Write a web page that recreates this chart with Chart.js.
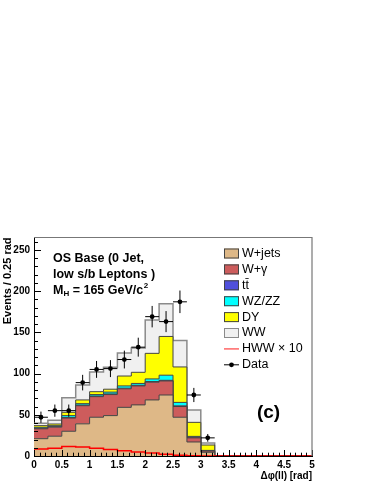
<!DOCTYPE html>
<html>
<head>
<meta charset="utf-8">
<script src="https://cdn.jsdelivr.net/npm/chart.js@4.4.0/dist/chart.umd.min.js"></script>
<style>
  html, body { margin: 0; padding: 0; background: #fff; }
  canvas { display: block; }
</style>
</head>
<body>
<canvas id="grafico" width="374" height="484"></canvas>
<script>
// Bins em delta-phi (borda inferior, largura 0.25 rad)
const binLo = [0, 0.25, 0.5, 0.75, 1, 1.25, 1.5, 1.75, 2, 2.25, 2.5, 2.75, 3, 3.25, 3.5, 3.75, 4, 4.25, 4.5, 4.75];
const binWidth = 0.25;

// Fundos (eventos por bin)
const wJets  = [21, 24, 30, 39, 47, 49, 59, 62, 68, 74, 47, 17, 4.5, 0, 0, 0, 0, 0, 0, 0];
const wGamma = [12, 11, 16, 22, 25, 25.5, 22.5, 23, 21.5, 17, 13, 5, 1.5, 0, 0, 0, 0, 0, 0, 0];
const ttbar  = [0.6, 0.6, 0.8, 0.8, 0.8, 0.8, 0.8, 0.8, 0.8, 0.8, 0.8, 0.6, 0.3, 0, 0, 0, 0, 0, 0, 0];
const wzzz   = [1.2, 1.2, 2.2, 1.7, 1.7, 2.2, 2.7, 2.2, 3.2, 6.2, 4.2, 1.2, 0.5, 0, 0, 0, 0, 0, 0, 0];
const dy     = [2, 2, 4, 4.5, 3.5, 3.5, 12, 13.5, 31, 47, 43, 17, 6.5, 0, 0, 0, 0, 0, 0, 0];
const ww     = [3, 4.5, 17.5, 18, 24, 26.5, 28, 29.5, 40.5, 39.5, 32, 15, 2.5, 0, 0, 0, 0, 0, 0, 0];

// Sinal (x10) e dados
const hww10 = [8.5, 9.5, 11.5, 11, 9.5, 8, 6.5, 5, 3.5, 2, 0.8, 0.3, 0.1, 0, 0, 0, 0, 0, 0, 0];
const dados = [47, 55, 55, 89, 105, 106, 117, 132, 169, 163, 187, 74, 22, 0, 0, 0, 0, 0, 0, 0];

const camadas = [
  { label: 'W+jets', valores: wJets,  cor: '#deb887', borda: '#444' },
  { label: 'W+\u03b3', valores: wGamma, cor: '#cd5c5c', borda: '#444' },
  { label: 't\u0074\u0304', valores: ttbar, cor: '#5050dc', borda: '#444' },
  { label: 'WZ/ZZ', valores: wzzz,  cor: '#00ffff', borda: '#444' },
  { label: 'DY',     valores: dy,    cor: '#ffff00', borda: '#444' },
  { label: 'WW',     valores: ww,    cor: '#f0f0f0', borda: '#8a8a8a' }
];

const fonte = "'Liberation Sans', Arial, sans-serif";
Chart.defaults.font.family = fonte;

// pontos de histograma em degraus (bordas dos bins)
function pontosHist(valores) {
  const pts = binLo.map((x, i) => ({ x, y: valores[i] }));
  pts.push({ x: binLo[binLo.length - 1] + binWidth, y: valores[valores.length - 1] });
  return pts;
}

// pilha acumulada
const acumulado = binLo.map(() => 0);
const dsPilha = camadas.map((c, k) => {
  c.valores.forEach((v, i) => { acumulado[i] += v; });
  return {
    label: c.label,
    data: pontosHist(acumulado.slice()),
    stepped: 'before',
    borderColor: c.borda,
    borderWidth: k === camadas.length - 1 ? 1.5 : 1,
    backgroundColor: c.cor,
    fill: k === 0 ? 'origin' : '-1',
    pointRadius: 0
  };
});

const pontosDados = binLo
  .map((x, i) => ({ x: x + binWidth / 2, y: dados[i] }))
  .filter(p => p.y > 0);

const datasets = [
  {
    label: 'Data',
    data: pontosDados,
    showLine: false,
    pointRadius: 2.4,
    pointBackgroundColor: '#000',
    pointBorderWidth: 0,
    fill: false
  },
  {
    label: 'HWW \u00d7 10',
    data: pontosHist(hww10),
    stepped: 'before',
    borderColor: '#ff0000',
    borderWidth: 1.5,
    pointRadius: 0,
    fill: false
  },
  ...dsPilha
];

// barras de erro dos dados
const barrasErro = {
  id: 'barrasErro',
  afterDatasetsDraw(chart) {
    const { ctx, scales: { x, y } } = chart;
    ctx.save();
    ctx.strokeStyle = '#000';
    ctx.lineWidth = 1;
    pontosDados.forEach(p => {
      const erro = Math.sqrt(p.y);
      const px = x.getPixelForValue(p.x);
      const py = y.getPixelForValue(p.y);
      ctx.beginPath();
      ctx.moveTo(x.getPixelForValue(p.x - binWidth / 2), py);
      ctx.lineTo(x.getPixelForValue(p.x + binWidth / 2), py);
      ctx.moveTo(px, y.getPixelForValue(p.y - erro));
      ctx.lineTo(px, y.getPixelForValue(p.y + erro));
      ctx.stroke();
    });
    ctx.restore();
  }
};

// moldura e marcas internas estilo ROOT
const moldura = {
  id: 'moldura',
  afterDatasetsDraw(chart) {
    const { ctx, chartArea: a, scales: { x, y } } = chart;
    ctx.save();
    ctx.strokeStyle = '#000';
    ctx.lineWidth = 1;
    ctx.beginPath();
    for (let i = 0; i <= 50; i++) {
      const px = Math.round(x.getPixelForValue(i / 10)) + 0.5;
      const len = i % 5 === 0 ? 6 : 3.3;
      ctx.moveTo(px, a.bottom);
      ctx.lineTo(px, a.bottom - len);
    }
    for (let i = 0; i <= 26; i++) {
      const py = Math.round(y.getPixelForValue(i * 10)) + 0.5;
      const len = i % 5 === 0 ? 7 : 4;
      ctx.moveTo(a.left, py);
      ctx.lineTo(a.left + len, py);
    }
    ctx.stroke();
    ctx.strokeStyle = '#777';
    ctx.lineWidth = 1.2;
    ctx.beginPath();
    ctx.moveTo(a.left, a.top);
    ctx.lineTo(a.right, a.top);
    ctx.lineTo(a.right, a.bottom);
    ctx.stroke();
    ctx.restore();
  }
};

// legenda e textos
const legenda = {
  id: 'legenda',
  afterDraw(chart) {
    const ctx = chart.ctx;
    const x0 = 224, y0 = 253.5, passo = 15.9;
    ctx.save();
    ctx.textBaseline = 'middle';
    ctx.fillStyle = '#000';
    camadas.forEach((c, i) => {
      const yy = y0 + i * passo;
      ctx.fillStyle = c.cor;
      ctx.fillRect(x0, yy - 5, 15, 10);
      ctx.strokeStyle = c.borda;
      ctx.lineWidth = 1;
      ctx.strokeRect(x0 + 0.5, yy - 4.5, 14, 9);
      ctx.fillStyle = '#000';
      ctx.font = '12.5px ' + fonte;
      ctx.fillText(c.label, x0 + 18, yy);
    });
    let yy = y0 + camadas.length * passo;
    ctx.strokeStyle = '#f66';
    ctx.lineWidth = 1.5;
    ctx.beginPath(); ctx.moveTo(x0, yy); ctx.lineTo(x0 + 15, yy); ctx.stroke();
    ctx.fillText(datasets[1].label, x0 + 18, yy);
    yy += passo;
    ctx.strokeStyle = '#000';
    ctx.lineWidth = 1;
    ctx.beginPath(); ctx.moveTo(x0, yy); ctx.lineTo(x0 + 15, yy); ctx.stroke();
    ctx.beginPath(); ctx.arc(x0 + 7.5, yy, 2.4, 0, Math.PI * 2); ctx.fill();
    ctx.fillText(datasets[0].label, x0 + 18, yy);

    // texto da selecao
    const tx = 53;
    ctx.font = 'bold 12.5px ' + fonte;
    ctx.fillText('OS Base (0 Jet,', tx, 258.5);
    ctx.fillText('low s/b Leptons )', tx, 274.5);
    let px = tx;
    const py = 290.5;
    ctx.fillText('M', px, py); px += ctx.measureText('M').width;
    ctx.font = 'bold 8px ' + fonte;
    ctx.fillText('H', px, py + 3.5); px += ctx.measureText('H').width;
    ctx.font = 'bold 12.5px ' + fonte;
    ctx.fillText(' = 165 GeV/c', px, py); px += ctx.measureText(' = 165 GeV/c').width;
    ctx.font = 'bold 8px ' + fonte;
    ctx.fillText('2', px + 0.5, py - 4.5);

    ctx.font = 'bold 19px ' + fonte;
    ctx.textAlign = 'center';
    ctx.fillText('(c)', 268.5, 412.5);
    ctx.restore();
  }
};

const fonteTick = { size: 10, weight: 'bold' };

new Chart(document.getElementById('grafico'), {
  type: 'line',
  data: { datasets },
  options: {
    responsive: false,
    animation: false,
    devicePixelRatio: 1,
    layout: { padding: { left: 0, right: 62, top: 237.5, bottom: 0 } },
    plugins: { legend: { display: false }, tooltip: { enabled: false } },
    scales: {
      x: {
        type: 'linear', min: 0, max: 5,
        grid: { display: false, drawTicks: false },
        border: { display: true, color: '#000', width: 1 },
        ticks: { stepSize: 0.5, autoSkip: false, maxRotation: 0, padding: 3, color: '#000', font: fonteTick, callback: v => String(v) },
        title: { display: true, text: '\u0394\u03c6(ll) [rad]', align: 'end', color: '#000', font: { size: 10, weight: 'bold' }, padding: { top: 0, bottom: 2 } },
        afterFit: s => { s.height = 28; }
      },
      y: {
        min: 0, max: 265,
        grid: { display: false, drawTicks: false },
        border: { display: true, color: '#000', width: 1 },
        ticks: { stepSize: 50, includeBounds: false, padding: 4, color: '#000', font: fonteTick, callback: v => String(v) },
        title: { display: true, text: 'Events / 0.25 rad', align: 'end', color: '#000', font: { size: 11, weight: 'bold' }, padding: { top: 1.5, bottom: 0 } },
        afterFit: s => { s.width = 34; }
      }
    }
  },
  plugins: [barrasErro, moldura, legenda]
});
</script>
</body>
</html>
